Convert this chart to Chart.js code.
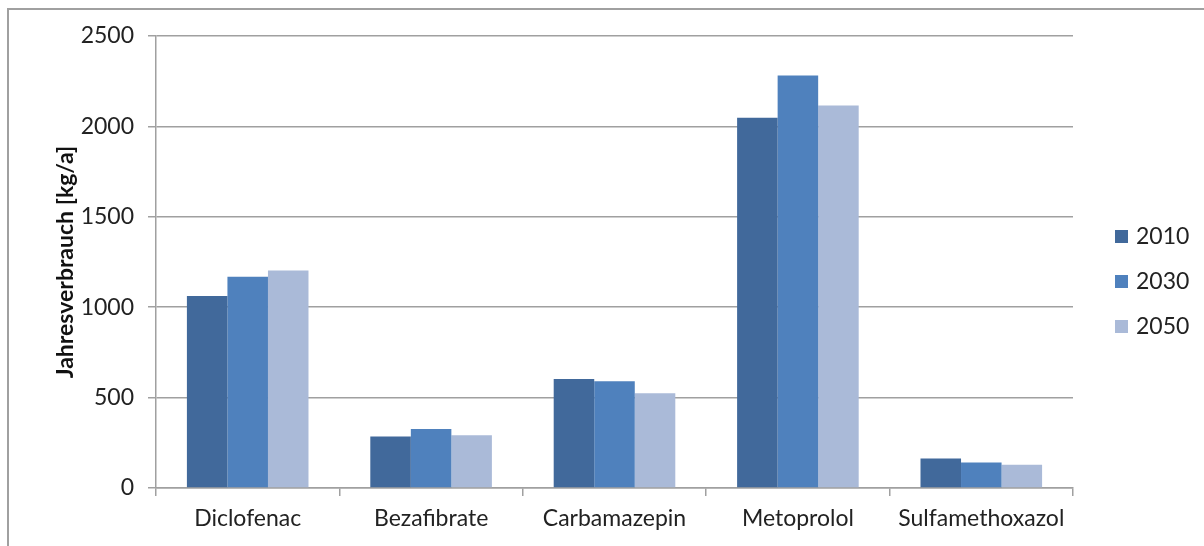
<!DOCTYPE html>
<html lang="de">
<head>
<meta charset="utf-8">
<script src="https://cdn.jsdelivr.net/npm/chart.js@4/dist/chart.umd.min.js"></script>
<style>
  html, body { margin: 0; padding: 0; background: #fff; }
  #wrap { position: relative; width: 1204px; height: 546px; }
  #rahmen {
    position: absolute; left: 7px; top: 8px; right: 0; bottom: 0;
    border-left: 2px solid #a0a0a0; border-top: 2px solid #a0a0a0;
    pointer-events: none;
  }
  canvas { position: absolute; left: 0; top: 0; }
</style>
</head>
<body>
<div id="wrap">
  <canvas id="grafico-verbrauch" width="1204" height="546"></canvas>
  <div id="rahmen"></div>
</div>
<script>
// Wirkstoffe (Kategorien)
const wirkstoffe = ['Diclofenac', 'Bezafibrate', 'Carbamazepin', 'Metoprolol', 'Sulfamethoxazol'];

// Jahresverbrauch in kg/a je Szenario
const jahre = ['2010', '2030', '2050'];
const verbrauch2010 = [1062, 285, 603, 2048, 163];
const verbrauch2030 = [1169, 326, 591, 2281, 141];
const verbrauch2050 = [1203, 292, 524, 2115, 128];

// Y-Achse
const yMin = 0;
const yMax = 2500;
const ySchritt = 500;

const farben = ['#41699b', '#4f81bd', '#aabad8'];
const schrift = 'Lato, "Open Sans", sans-serif';

// Legende rechts, selbst gezeichnet
const legendePlugin = {
  id: 'legendeRechts',
  afterDraw(chart) {
    const ctx = chart.ctx;
    const x = 1115;
    const yStart = 236;
    const abstand = 45;
    ctx.save();
    ctx.font = '23px ' + schrift;
    ctx.textBaseline = 'middle';
    ctx.textAlign = 'left';
    chart.data.datasets.forEach((ds, i) => {
      const y = yStart + i * abstand;
      ctx.fillStyle = ds.backgroundColor;
      ctx.fillRect(x, y - 6, 13, 13);
      ctx.fillStyle = '#222';
      ctx.fillText(ds.label, x + 21, y + 1);
    });
    ctx.restore();
  }
};

const datenreihen = [verbrauch2010, verbrauch2030, verbrauch2050];

const grafico = new Chart(document.getElementById('grafico-verbrauch'), {
  type: 'bar',
  data: {
    labels: wirkstoffe,
    datasets: jahre.map((jahr, i) => ({
      label: jahr,
      data: datenreihen[i],
      backgroundColor: farben[i],
      borderWidth: 0,
      barPercentage: 1,
      categoryPercentage: 0.663
    }))
  },
  options: {
    responsive: false,
    animation: false,
    layout: {
      padding: { top: 36, right: 131, left: 0, bottom: 0 }
    },
    plugins: {
      legend: { display: false },
      tooltip: { enabled: false }
    },
    scales: {
      x: {
        afterFit: (scale) => { scale.height = 58; },
        grid: {
          offset: true,
          drawOnChartArea: false,
          drawTicks: true,
          tickLength: 8,
          color: '#a0a0a0',
          lineWidth: 1.5
        },
        border: { color: '#a0a0a0', width: 1.5 },
        ticks: {
          color: '#222',
          font: { family: schrift, size: 23 },
          padding: 9,
          maxRotation: 0
        }
      },
      y: {
        min: yMin,
        max: yMax,
        afterFit: (scale) => { scale.width = 156; },
        grid: {
          color: '#a0a0a0',
          lineWidth: 1.5,
          drawTicks: true,
          tickLength: 8
        },
        border: { color: '#a0a0a0', width: 1.5 },
        ticks: {
          stepSize: ySchritt,
          color: '#222',
          font: { family: schrift, size: 23 },
          padding: 14,
          callback: (wert) => String(wert)
        },
        title: {
          display: true,
          text: 'Jahresverbrauch [kg/a]',
          color: '#111',
          font: { family: schrift, size: 23, weight: 'bold' },
          padding: { top: 52, bottom: 0 }
        }
      }
    }
  },
  plugins: [legendePlugin]
});
</script>
</body>
</html>
